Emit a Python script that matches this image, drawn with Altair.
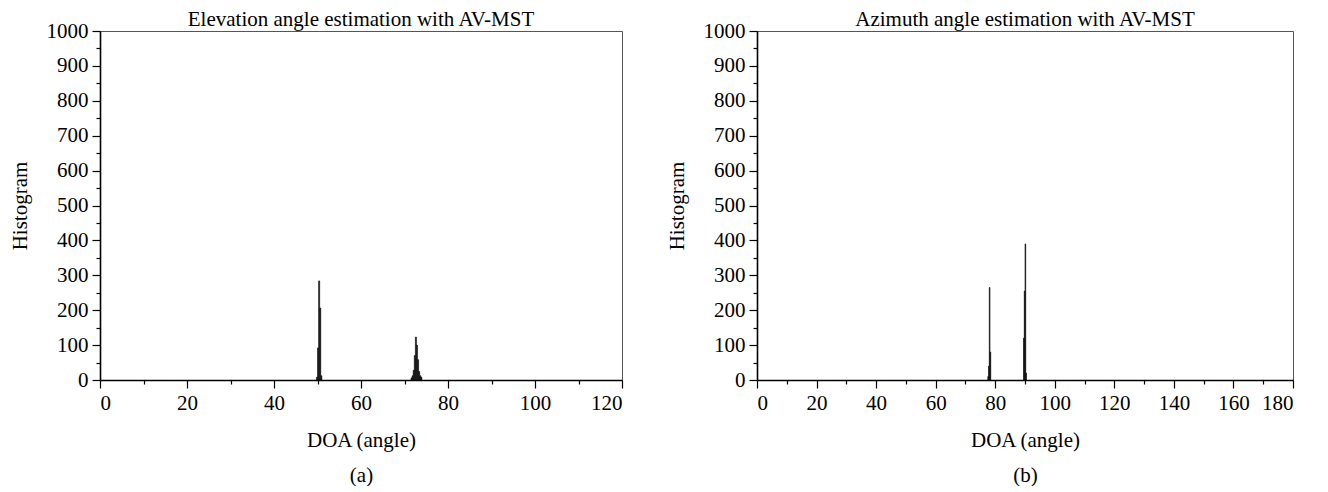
import altair as alt
import pandas as pd

# Histogram bins (left edge, degrees) and counts
elev_bins = [49.75, 50.0, 50.25, 50.5, 50.75,
             71.5, 71.75, 72.0, 72.25, 72.5, 72.75, 73.0, 73.25, 73.5, 73.75]
elev_counts = [8, 92, 284, 206, 12,
               6, 12, 28, 70, 123, 100, 58, 24, 12, 8]

azim_bins = [77.5, 77.75, 78.0, 78.25, 89.5, 89.75, 90.0, 90.25]
azim_counts = [10, 40, 265, 80, 120, 255, 390, 20]

BIN_W = 0.25
FONT = "Liberation Serif, Times New Roman, serif"
FS = 21


def panel(bins, counts, xmax, title, sub, width):
    df = pd.DataFrame({"x": bins, "n": counts})
    xscale = alt.Scale(domain=[0, xmax], nice=False)
    yscale = alt.Scale(domain=[0, 1000], nice=False)
    base = alt.Chart(df).transform_calculate(x2=f"datum.x + {BIN_W}")
    minor = base.mark_point(opacity=0).encode(
        x=alt.X("x:Q", scale=xscale,
                axis=alt.Axis(orient="bottom", values=list(range(10, xmax, 20)),
                              labels=False, title="", domain=False, tickSize=4)),
        y=alt.Y("n:Q", scale=yscale,
                axis=alt.Axis(orient="left", values=list(range(50, 1000, 100)),
                              labels=False, title="", domain=False, tickSize=4)),
    )
    bars = base.mark_bar(color="#111", stroke="#111", strokeWidth=0.6).encode(
        x=alt.X("x:Q", scale=xscale,
                axis=alt.Axis(orient="bottom", values=list(range(0, xmax + 1, 20)),
                              format="d",
                              title=["DOA (angle)", sub], titleLineHeight=35,
                              titlePadding=16, labelPadding=4)),
        x2="x2:Q",
        y=alt.Y("n:Q", scale=yscale,
                axis=alt.Axis(orient="left", values=list(range(0, 1001, 100)),
                              format="d",
                              title="Histogram", titlePadding=16, labelPadding=4)),
        y2=alt.datum(0),
    )
    return alt.layer(minor, bars).resolve_axis(
        x="independent", y="independent"
    ).properties(
        width=width, height=349,
        title=alt.Title(title, font=FONT, fontSize=FS, fontWeight="normal",
                        color="#000", anchor="middle", offset=-10),
    )


p1 = panel(elev_bins, elev_counts, 120, "Elevation angle estimation with AV-MST", "(a)", 522)
p2 = panel(azim_bins, azim_counts, 180, "Azimuth angle estimation with AV-MST", "(b)", 536)

chart = alt.hconcat(p1, p2, spacing=41).properties(
    padding={"top": 0, "left": 0, "right": 0, "bottom": 0}
).configure(
    background="white",
).configure_view(
    stroke="#555", strokeWidth=1
).configure_axis(
    domainColor="#000", domainWidth=1.6,
    tickColor="#000", tickWidth=1.2, tickSize=8,
    labelFont=FONT, labelFontSize=FS, labelColor="#000",
    titleFont=FONT, titleFontSize=FS, titleFontWeight="normal", titleColor="#000",
    grid=False,
)

chart.save("out.html", embed_options={"renderer": "svg", "actions": False})
